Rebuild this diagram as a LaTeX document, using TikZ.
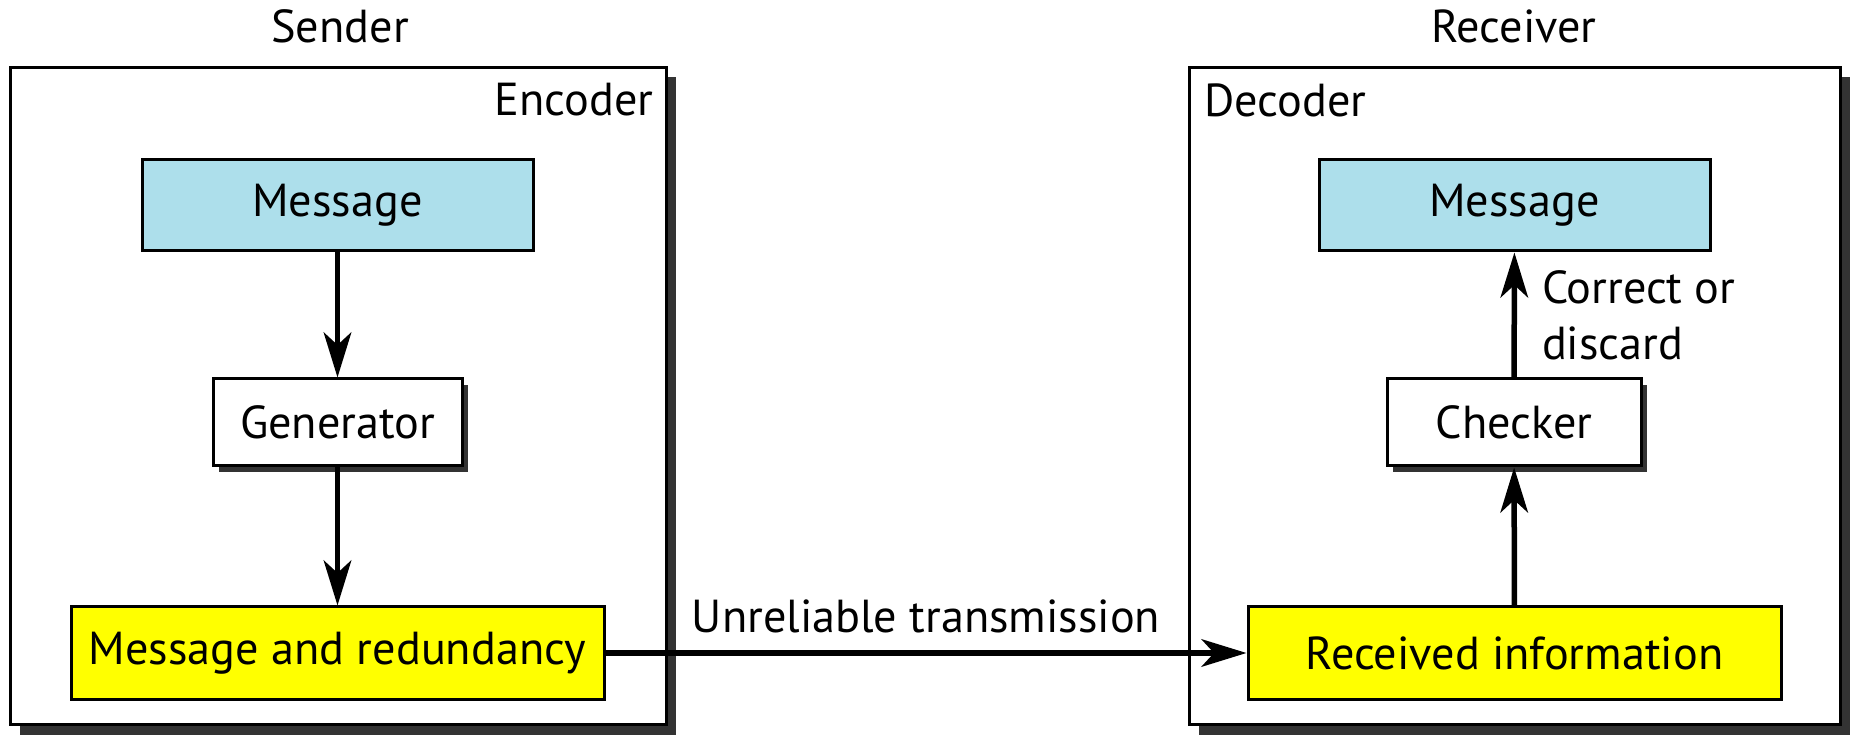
\documentclass[tikz,border=0pt]{standalone}
\usepackage{fontspec}
\setmainfont{PT Sans}
\usetikzlibrary{arrows.meta}
\definecolor{msgblue}{HTML}{ADDFEB}
\definecolor{shadowgray}{HTML}{333333}
\definecolor{boxyellow}{HTML}{FFFF00}
\tikzset{
  outerbox/.style={draw=black, line width=1.2pt, fill=white, minimum width=656*0.4pt, minimum height=657*0.4pt, inner sep=0pt},
  blockbox/.style={draw=black, line width=1.2pt, inner sep=0pt, font=\fontsize{18.5}{22.5}\selectfont},
  lbl/.style={font=\fontsize{18.5}{22.5}\selectfont, inner sep=0pt},
  flow/.style={line width=2.2pt, -{Stealth[length=18pt, width=11pt, inset=5pt]}},
}
\begin{document}
\begin{tikzpicture}[x=0.4pt, y=-0.4pt]
\useasboundingbox (0,0) rectangle (1858,744);
% outer boxes with shadows
\fill[shadowgray] (19.5,77.5) rectangle (676,735);
\node[outerbox] (enc) at (338,396) {};
\fill[shadowgray] (1199,77.5) rectangle (1850,735);
\node[outerbox, minimum width=651*0.4pt] (dec) at (1514.5,396) {};
\node[lbl] (sender) at (340,26) {Sender};
\node[lbl] (receiver) at (1514,26) {Receiver};
\node[lbl, anchor=east] (enclbl) at (654,100) {Encoder};
\node[lbl, anchor=west] (declbl) at (1204,100) {Decoder};
% left side
\node[blockbox, fill=msgblue, minimum width=391*0.4pt, minimum height=91*0.4pt] (msgL) at (337.5,205.5) {Message};
\fill[shadowgray] (219,385.5) rectangle (468,472.5);
\node[blockbox, fill=white, minimum width=249*0.4pt, minimum height=87*0.4pt] (gen) at (337.5,422.5) {Generator};
\node[blockbox, fill=boxyellow, minimum width=533*0.4pt, minimum height=92*0.4pt] (mr) at (337.5,653) {Message and redundancy};
% right side
\node[blockbox, fill=msgblue, minimum width=391*0.4pt, minimum height=91*0.4pt] (msgR) at (1514.5,205.5) {Message};
\fill[shadowgray] (1393,385.5) rectangle (1647,472.5);
\node[blockbox, fill=white, minimum width=254*0.4pt, minimum height=87*0.4pt] (chk) at (1514,422.5) {Checker};
\node[blockbox, fill=boxyellow, minimum width=533*0.4pt, minimum height=92*0.4pt] (rcv) at (1514.5,653) {Received information};
% connectors
\draw[flow] (msgL) -- (gen);
\draw[flow] (gen) -- (mr);
\draw[flow] (rcv) -- (chk);
\draw[flow] (chk) -- node[lbl, anchor=west, align=left, xshift=10pt] (cod) {Correct or\\discard} (msgR);
\draw[flow] (mr) -- node[lbl, above=7pt] (unrel) {Unreliable transmission} (rcv);
\end{tikzpicture}
\end{document}
